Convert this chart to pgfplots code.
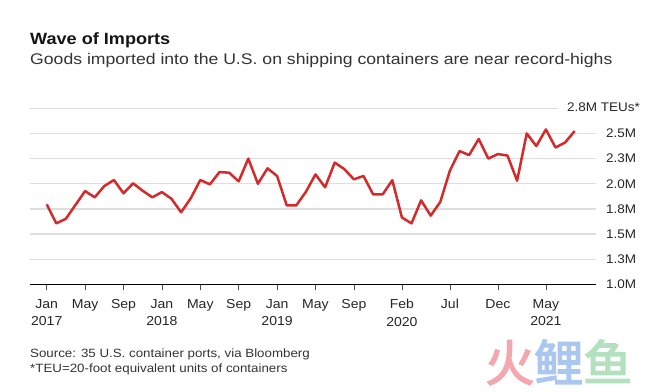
\documentclass[border=0pt]{standalone}
\usepackage{pgfplots}
\usepackage{pgfplotstable}
\pgfplotsset{compat=1.18}
\usepackage{fontspec}
\setmainfont{Liberation Sans}[FakeStretch=1.11]
\newfontfamily\subfont{Liberation Sans}[FakeStretch=1.145]
\newfontfamily\tickfont{Liberation Sans}[FakeStretch=1.08]
\newfontfamily\cjk{Noto Sans CJK SC}[FakeBold=3]
\definecolor{linered}{HTML}{D42A2A}
\definecolor{gridgray}{HTML}{DEDEDE}
\definecolor{wmpink}{HTML}{F4A7AF}
\definecolor{wmblue}{HTML}{A9C7EF}
\definecolor{wmgreen}{HTML}{B3E0BD}

\pgfplotstableread{
m v
0 1.795
1 1.606
2 1.652
3 1.790
4 1.927
5 1.865
6 1.977
7 2.037
8 1.905
9 2.004
10 1.930
11 1.865
12 1.917
13 1.850
14 1.716
15 1.855
16 2.037
17 1.994
18 2.116
19 2.110
20 2.024
21 2.250
22 2.000
23 2.153
24 2.077
25 1.785
26 1.785
27 1.920
28 2.093
29 1.964
30 2.210
31 2.146
32 2.044
33 2.077
34 1.895
35 1.895
36 2.035
37 1.665
38 1.606
39 1.835
40 1.683
41 1.820
42 2.130
43 2.325
44 2.285
45 2.445
46 2.250
47 2.295
48 2.280
49 2.030
50 2.500
51 2.375
52 2.540
53 2.360
54 2.410
55 2.524
}\imports

\begin{document}
\begin{tikzpicture}[x=1bp,y=1bp]
\path[use as bounding box] (0,0) rectangle (657,-391);
\node[anchor=base west, inner sep=0, font=\fontsize{16.3bp}{18bp}\selectfont\bfseries, text=black!92] at (30,-44) {Wave of Imports};
\node[anchor=base west, inner sep=0, font=\subfont\fontsize{15.4bp}{18bp}\selectfont, text=black!80] at (30,-64.3) {Goods imported into the U.S. on shipping containers are near record-highs};
\begin{axis}[
  at={(30bp,-284.3bp)}, anchor=south west,
  scale only axis, width=566bp, height=176bp,
  xmin=-1.74, xmax=57.22, ymin=1, ymax=2.75,
  axis x line=bottom, axis y line=right, axis line style={-},
  y axis line style={draw=none},
  x axis line style={black, line width=1bp},
  tick align=outside, major tick length=6bp,
  xtick={0,4,8,12,16,20,24,28,32,37,42,47,52},
  xticklabels={{Jan\\2017},May,Sep,{Jan\\2018},May,Sep,{Jan\\2019},May,Sep,{Feb\\2020},Jul,Dec,{May\\2021}},
  xticklabel style={font=\tickfont\fontsize{13bp}{17.3bp}\selectfont, align=center, text=black!85, inner sep=0pt, anchor=north, yshift=-9bp},
  x tick style={black!70, line width=0.8bp},
  ytick={1,1.25,1.5,1.75,2,2.25,2.5},
  yticklabels={1.0M,1.3M,1.5M,1.8M,2.0M,2.3M,2.5M},
  yticklabel style={font=\tickfont\fontsize{12.5bp}{14bp}\selectfont, text=black!85, anchor=west, inner sep=0pt, xshift=4bp},
  y tick style={draw=none},
  ymajorgrids, grid style={gridgray, line width=1.3bp},
  clip=false,
]
\draw[gridgray, line width=1.3bp] (axis cs:-1.74,2.75) -- (axis cs:53.26,2.75);
\addplot[linered, line width=2.5bp, line join=round] table[x=m,y=v]{\imports};
\end{axis}
\node[anchor=east, inner sep=0, font=\tickfont\fontsize{12.5bp}{14bp}\selectfont, text=black!85] at (640,-107) {2.8M TEUs*};
\node[anchor=base west, inner sep=0, font=\fontsize{12bp}{14bp}\selectfont, text=black!80] at (30,-357.3) {Source: 35 U.S. container ports, via Bloomberg};
\node[anchor=base west, inner sep=0, font=\fontsize{12bp}{14bp}\selectfont, text=black!80] at (30,-372) {*TEU=20-foot equivalent units of containers};
\node[anchor=base west, inner sep=0, font=\cjk\fontsize{49bp}{49bp}\selectfont] at (485,-381) {\textcolor{wmpink}{火}\textcolor{wmblue}{鲤}\textcolor{wmgreen}{鱼}};
\end{tikzpicture}
\end{document}
